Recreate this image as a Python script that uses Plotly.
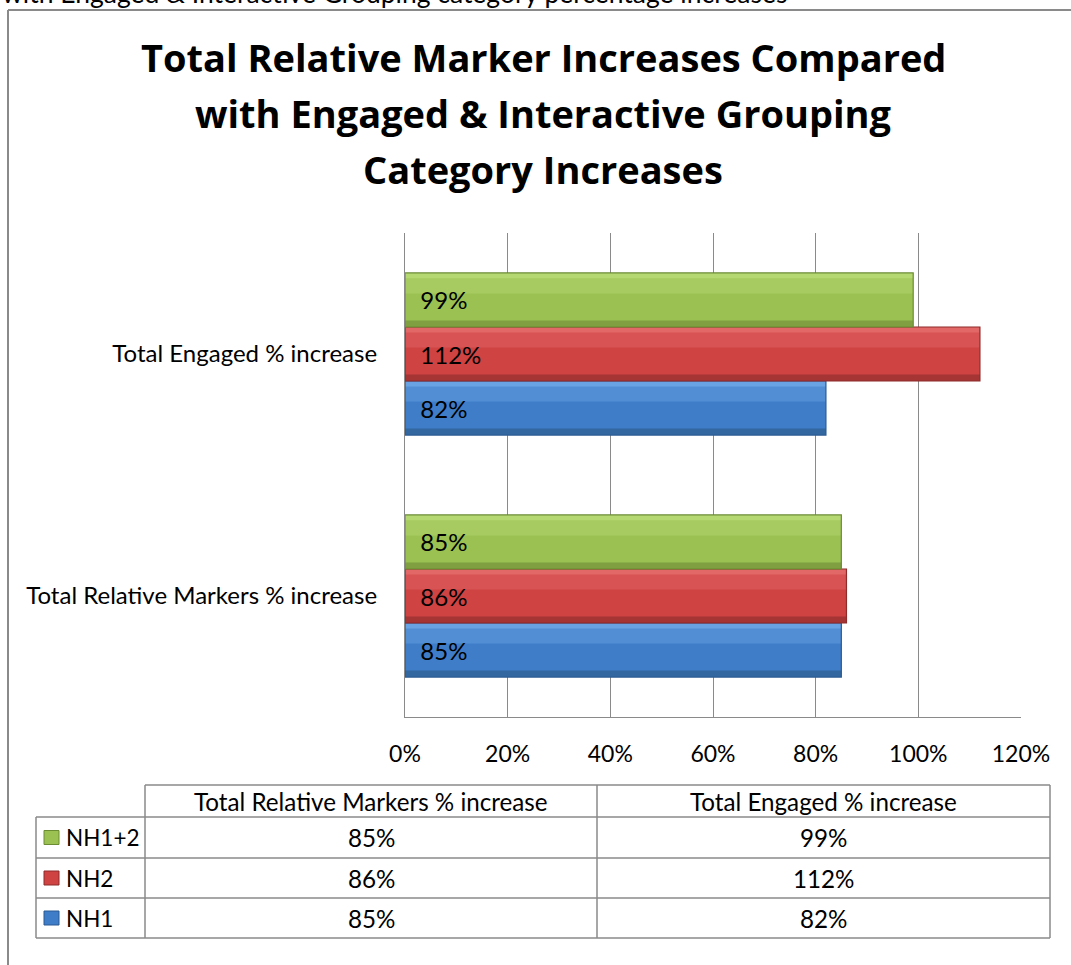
import plotly.graph_objects as go

# ---- data ----
categories = ["Total Relative Markers % increase", "Total Engaged % increase"]
series_names = ["NH1", "NH2", "NH1+2"]
nh1 = [85, 82]
nh2 = [86, 112]
nh12 = [85, 99]
x_ticks = [0, 20, 40, 60, 80, 100, 120]
x_tick_labels = [f"{t}%" for t in x_ticks]

title_lines = [
    "Total Relative Marker Increases Compared",
    "with Engaged & Interactive Grouping",
    "Category Increases",
]
caption = "with Engaged & Interactive Grouping category percentage increases"

# ---- styling ----
W, H = 1071, 965
FONT = "Lato"
TITLE_FONT = "Open Sans"
GRID = "#8a8a8a"
fills = {"NH1": "#3f7dc9", "NH2": "#cf4343", "NH1+2": "#9bc153"}
lights = {"NH1": "#6aa3e3", "NH2": "#e26868", "NH1+2": "#b6d872"}
darks = {"NH1": "#33679f", "NH2": "#a53535", "NH1+2": "#7f9f40"}
edges = {"NH1": "#2b5b93", "NH2": "#8f2b2b", "NH1+2": "#6c8c33"}
values = {"NH1": nh1, "NH2": nh2, "NH1+2": nh12}

BARGAP = 0.33
BW = (1 - BARGAP) / len(series_names)   # bar thickness in category units


def px(x):
    return x / W


def py(y):
    return 1 - y / H


fig = go.Figure()
for k, name in enumerate(series_names):
    vals = values[name]
    base_off = (k - len(series_names) / 2) * BW
    common = dict(y=categories, x=vals, orientation="h", showlegend=False,
                  hoverinfo="skip")
    # body of the bar
    fig.add_trace(go.Bar(**common, offset=base_off, width=BW,
                         marker=dict(color=fills[name], line=dict(width=0))))
    # lighter upper band and darker lower band give a bevelled look
    fig.add_trace(go.Bar(**common, offset=base_off + 0.62 * BW, width=0.38 * BW,
                         marker=dict(color=lights[name], line=dict(width=0), opacity=0.45)))
    fig.add_trace(go.Bar(**common, offset=base_off + 0.9 * BW, width=0.1 * BW,
                         marker=dict(color=lights[name], line=dict(width=0))))
    fig.add_trace(go.Bar(**common, offset=base_off, width=0.12 * BW,
                         marker=dict(color=darks[name], line=dict(width=0))))
    # outline and value label on top
    fig.add_trace(go.Bar(
        y=categories, x=vals, name=name, orientation="h",
        offset=base_off, width=BW,
        marker=dict(color="rgba(0,0,0,0)", line=dict(color=edges[name], width=1.2)),
        text=["\u00a0\u00a0" + f"{v}%" for v in vals],
        textposition="inside",
        insidetextanchor="start",
        textfont=dict(family=FONT, size=24, color="black"),
        showlegend=False,
    ))

fig.update_layout(
    width=W,
    height=H,
    autosize=False,
    margin=dict(l=0, r=0, t=0, b=0, pad=0, autoexpand=False),
    paper_bgcolor="white",
    plot_bgcolor="white",
    barmode="overlay",
    showlegend=False,
    font=dict(family=FONT, color="black"),
    xaxis=dict(
        domain=[px(405), px(1021)],
        range=[0, 120],
        tickvals=x_ticks,
        ticktext=x_tick_labels,
        showgrid=True,
        gridcolor=GRID,
        gridwidth=1,
        showline=True,
        linecolor=GRID,
        linewidth=1.2,
        zeroline=False,
        ticks="",
        automargin=False,
        ticklabelstandoff=16,
        tickfont=dict(family=FONT, size=23, color="black"),
    ),
    yaxis=dict(
        domain=[py(717), py(233)],
        range=[-0.5, 1.5],
        showgrid=False,
        showline=True,
        linecolor=GRID,
        linewidth=1.2,
        zeroline=False,
        ticks="",
        automargin=False,
        ticklabelstandoff=22,
        tickfont=dict(family=FONT, size=24, color="black"),
    ),
)

shapes = []
annotations = []

# outer frame (left and top edges)
shapes.append(dict(type="line", xref="paper", yref="paper",
                   x0=px(8), x1=px(8), y0=py(10), y1=py(H + 5),
                   line=dict(color=GRID, width=2)))
shapes.append(dict(type="line", xref="paper", yref="paper",
                   x0=px(8), x1=px(W + 5), y0=py(10), y1=py(10),
                   line=dict(color=GRID, width=2)))

# caption running off the top edge
annotations.append(dict(xref="paper", yref="paper", x=px(0), y=py(-7),
                        xanchor="left", yanchor="middle", showarrow=False,
                        text=caption, font=dict(family=FONT, size=26.5, color="black")))

# title, one annotation per line
for line, cy in zip(title_lines, [57, 113, 169]):
    annotations.append(dict(xref="paper", yref="paper", x=px(543), y=py(cy),
                            xanchor="center", yanchor="middle", showarrow=False,
                            text=f"<b>{line}</b>",
                            font=dict(family=TITLE_FONT, size=38, color="black")))

# data table under the chart
col_x = [36, 145, 597, 1050]
row_y = [785, 817, 858, 898, 938]
tline = dict(color=GRID, width=1.5)
shapes.append(dict(type="line", xref="paper", yref="paper",
                   x0=px(col_x[1]), x1=px(col_x[3]), y0=py(row_y[0]), y1=py(row_y[0]), line=tline))
for yy in row_y[1:]:
    shapes.append(dict(type="line", xref="paper", yref="paper",
                       x0=px(col_x[0]), x1=px(col_x[3]), y0=py(yy), y1=py(yy), line=tline))
shapes.append(dict(type="line", xref="paper", yref="paper",
                   x0=px(col_x[0]), x1=px(col_x[0]), y0=py(row_y[1]), y1=py(row_y[4]), line=tline))
for xx in col_x[1:]:
    shapes.append(dict(type="line", xref="paper", yref="paper",
                       x0=px(xx), x1=px(xx), y0=py(row_y[0]), y1=py(row_y[4]), line=tline))

tfont = dict(family=FONT, size=24.2, color="black")
# header cells
for j, cat in enumerate(categories):
    cx = (col_x[j + 1] + col_x[j + 2]) / 2
    annotations.append(dict(xref="paper", yref="paper", x=px(cx), y=py((row_y[0] + row_y[1]) / 2),
                            xanchor="center", yanchor="middle", showarrow=False,
                            text=cat, font=tfont))

# body rows: top row is NH1+2, bottom is NH1
for i, name in enumerate(reversed(series_names)):
    cy = (row_y[i + 1] + row_y[i + 2]) / 2
    shapes.append(dict(type="rect", xref="paper", yref="paper",
                       x0=px(44), x1=px(59), y0=py(cy - 7), y1=py(cy + 7),
                       fillcolor=fills[name], line=dict(color=edges[name], width=1)))
    annotations.append(dict(xref="paper", yref="paper", x=px(64), y=py(cy),
                            xanchor="left", yanchor="middle", showarrow=False,
                            text=name, font=dict(family=FONT, size=22.5, color="black")))
    for j in range(len(categories)):
        cx = (col_x[j + 1] + col_x[j + 2]) / 2
        annotations.append(dict(xref="paper", yref="paper", x=px(cx), y=py(cy),
                                xanchor="center", yanchor="middle", showarrow=False,
                                text=f"{values[name][j]}%", font=tfont))

fig.update_layout(shapes=shapes, annotations=annotations)
fig.write_html(
    "out.html",
    post_script="document.documentElement.style.overflow='hidden';"
                "document.body.style.margin='0';document.body.style.overflow='hidden';",
)
